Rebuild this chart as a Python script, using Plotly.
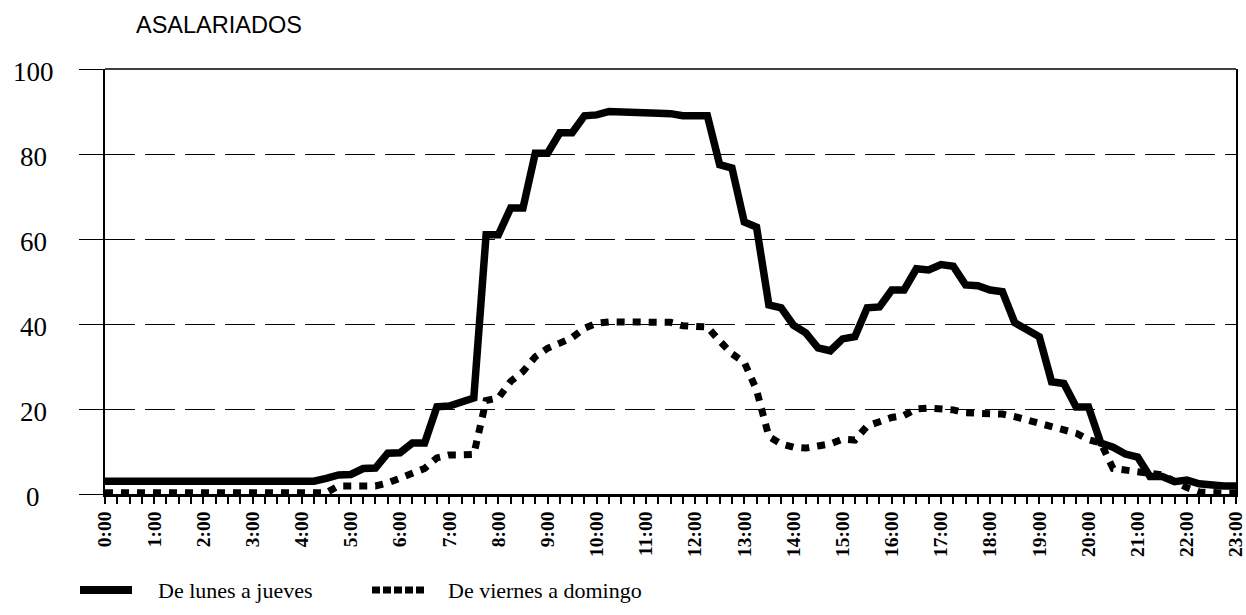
import plotly.graph_objects as go

# Quarter-hour time slots from 0:00 to 23:00
times = [f"{h}:{m:02d}" for h in range(23) for m in (0, 15, 30, 45)] + ["23:00"]

# Percentage of wage earners, Monday to Thursday
lunes_jueves = [
    3, 3, 3, 3,
    3, 3, 3, 3,
    3, 3, 3, 3,
    3, 3, 3, 3,
    3, 3, 3.7, 4.5,
    4.6, 6, 6.1, 9.6,
    9.7, 12, 12, 20.5,
    20.7, 21.7, 22.6, 61,
    61, 67.3, 67.3, 80.2,
    80.2, 85, 85, 89,
    89.2, 90, 90, 90,
    90, 89.6, 89.5, 89,
    89, 89, 77.5, 76.7,
    64, 62.8, 44.5, 43.8,
    39.7, 37.9, 34.4, 33.7,
    36.5, 37, 43.8, 44,
    48, 48, 53, 52.7,
    54, 53.6, 49.2, 49,
    48, 47.6, 40.3, 38.6,
    37, 26.4, 26, 20.5,
    20.5, 12, 11, 9.4,
    8.7, 4.1, 4.1, 2.9,
    3.3, 2.4, 2, 1.9,
    1.9,
]

# Percentage of wage earners, Friday to Sunday
viernes_domingo = [
    0.3, 0.3, 0.3, 0.3,
    0.3, 0.3, 0.3, 0.3,
    0.3, 0.3, 0.3, 0.3,
    0.3, 0.3, 0.3, 0.3,
    0.3, 0.3, 0.3, 1.9,
    1.9, 1.9, 1.9, 2.6,
    3.8, 4.8, 6, 8.5,
    9.2, 9.2, 9.3, 22,
    22.6, 26.5, 28.8, 32.3,
    34.3, 35.5, 36.8, 39,
    40.2, 40.5, 40.5, 40.3,
    40.4, 40.5, 40.4, 39.6,
    39.5, 39.3, 36, 33,
    31, 24.5, 13.5, 11.8,
    11, 10.8, 11.3, 11.8,
    12.9, 12.7, 16, 17.2,
    18, 18.5, 20, 20.2,
    20.2, 19.8, 19.1, 19.1,
    19.1, 18.8, 18.2, 17.4,
    16.9, 16, 15, 14.3,
    12.8, 12, 6, 5.6,
    5, 4.8, 4.5, 3,
    1.5, 0.5, 0.2, 0.2,
    0.2,
]

hour_labels = [f"{h}:00" for h in range(24)]
y_ticks = [0, 20, 40, 60, 80, 100]

series_names = ["De lunes a jueves", "De viernes a domingo"]


def to_hours(t):
    h, m = t.split(":")
    return int(h) + int(m) / 60


x_hours = [to_hours(t) for t in times]
hour_vals = [to_hours(t) for t in hour_labels]

W, H = 1246, 615
ML, MR, MT, MB = 105, 10, 69, 121
PW, PH = W - ML - MR, H - MT - MB

SERIF = "Liberation Serif, Times New Roman, serif"
SANS = "Liberation Sans, Arial, sans-serif"

fig = go.Figure()

fig.add_trace(go.Scatter(
    x=x_hours, y=viernes_domingo, mode="lines", name=series_names[1],
    line=dict(color="black", width=7, dash="8px,8px"),
    showlegend=False, hoverinfo="skip",
))
fig.add_trace(go.Scatter(
    x=x_hours, y=lunes_jueves, mode="lines", name=series_names[0],
    line=dict(color="black", width=7.5),
    showlegend=False, hoverinfo="skip",
))

fig.update_xaxes(
    range=[0, 23],
    tickmode="array", tickvals=hour_vals, ticktext=[f"<b>{t}</b>" for t in hour_labels],
    tickangle=-90,
    tickfont=dict(family=SERIF, size=19.5, color="black"),
    ticklabeloverflow="allow",
    automargin=False,
    ticks="outside", ticklen=7, tickwidth=1.5, tickcolor="black",
    minor=dict(dtick=0.25, tick0=0, ticks="outside", ticklen=7, tickwidth=1.5, tickcolor="black"),
    showline=True, linecolor="black", linewidth=2.5,
    showgrid=False, zeroline=False,
    fixedrange=True,
)
fig.update_yaxes(
    range=[0, 100],
    tickmode="array", tickvals=y_ticks,
    showticklabels=False,
    automargin=False,
    ticks="outside", ticklen=24, tickwidth=1.3, tickcolor="black",
    showline=True, linecolor="black", linewidth=1.5, mirror=True,
    showgrid=True, gridcolor="black", gridwidth=1.3, griddash="30px,10px",
    zeroline=False,
    fixedrange=True,
)

annotations = []
# y-axis labels, centred in the left margin
for v in y_ticks:
    annotations.append(dict(
        x=-(ML - 33) / PW, xref="paper", y=v, yref="y",
        text=str(v), showarrow=False, xanchor="center", yanchor="middle",
        yshift=-3, font=dict(family=SERIF, size=27, color="black"),
    ))

# chart heading
annotations.append(dict(
    x=(219 - ML) / PW, xref="paper", y=1 + (MT - 25) / PH, yref="paper",
    text="ASALARIADOS", showarrow=False, xanchor="center", yanchor="middle",
    font=dict(family=SANS, size=23.5, color="black"),
))

# legend labels
LEG_Y = 1 - (590 - MT) / PH
annotations.append(dict(
    x=(156 - ML) / PW, xref="paper", y=LEG_Y, yref="paper",
    text=series_names[0], showarrow=False, xanchor="left", yanchor="middle",
    font=dict(family=SERIF, size=22, color="black"),
))
annotations.append(dict(
    x=(446 - ML) / PW, xref="paper", y=LEG_Y, yref="paper",
    text=series_names[1], showarrow=False, xanchor="left", yanchor="middle",
    font=dict(family=SERIF, size=22, color="black"),
))

shapes = [
    # top border of the plot frame
    dict(type="line", xref="paper", yref="paper", x0=0, x1=1, y0=1, y1=1,
         line=dict(color="black", width=1.3)),
    # legend keys
    dict(type="line", xref="paper", yref="paper",
         x0=(80 - ML) / PW, x1=(132 - ML) / PW, y0=LEG_Y, y1=LEG_Y,
         line=dict(color="black", width=8)),
    dict(type="line", xref="paper", yref="paper",
         x0=(372 - ML) / PW, x1=(424 - ML) / PW, y0=LEG_Y, y1=LEG_Y,
         line=dict(color="black", width=7, dash="8px,3px")),
]

fig.update_layout(
    width=W, height=H,
    margin=dict(l=ML, r=MR, t=MT, b=MB, autoexpand=False),
    paper_bgcolor="white", plot_bgcolor="white",
    showlegend=False,
    annotations=annotations,
    shapes=shapes,
)

fig.write_html("out.html", config={"displayModeBar": False})
